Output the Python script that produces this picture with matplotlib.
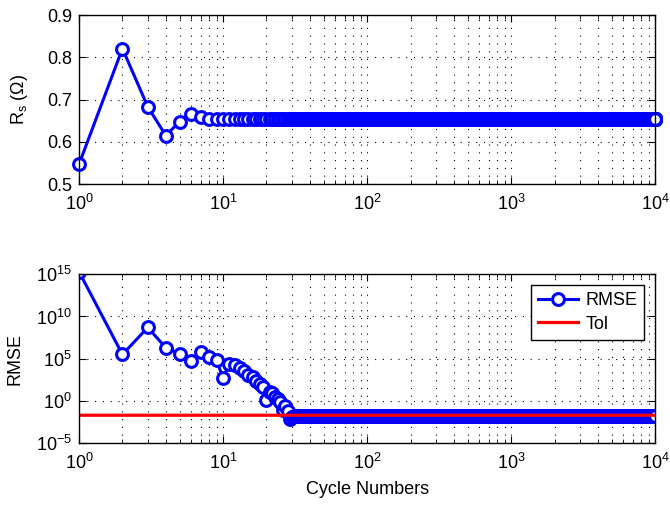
import numpy as np
import matplotlib
matplotlib.use("Agg")
import matplotlib.pyplot as plt
from matplotlib.ticker import LogLocator, NullLocator, FixedLocator

plt.rcParams['font.family'] = ['Liberation Sans', 'DejaVu Sans']
plt.rcParams['mathtext.fontset'] = 'custom'
plt.rcParams['mathtext.rm'] = 'Liberation Sans'
plt.rcParams['mathtext.it'] = 'Liberation Sans:italic'

# ---- data ----
n_cycles = 10000
rs_early = [0.547, 0.821, 0.683, 0.615, 0.648, 0.667, 0.658, 0.655, 0.654, 0.653]
rs_converged = 0.653
rmse_log_early = [15.3, 5.5, 8.7, 6.3, 5.6, 4.7, 5.8, 5.2, 4.8, 2.7,
                  4.4, 4.2, 3.9, 3.5, 3.1, 2.8, 2.3, 2.0, 1.6, 0.1,
                  1.1, 0.9, 0.5, 0.2, -0.1, -1.1, -0.6, -1.2, -2.1, -1.9]
rmse_converged = 0.018
tol = 0.02

cycles = np.arange(1, n_cycles + 1)
rs = np.concatenate([rs_early, np.full(n_cycles - len(rs_early), rs_converged)])
rmse = np.concatenate([10.0 ** np.array(rmse_log_early),
                       np.full(n_cycles - len(rmse_log_early), rmse_converged)])

fig = plt.figure(figsize=(6.7, 5.07), dpi=100)
ax1 = fig.add_axes([0.118, 0.637, 0.860, 0.333])
ax2 = fig.add_axes([0.118, 0.126, 0.860, 0.333])

mk = dict(color=(0, 0, 1), marker='o', markerfacecolor='white',
          markeredgecolor=(0, 0, 1), markersize=8.5, markeredgewidth=2.2, linewidth=2.2)

ax1.plot(cycles, rs, clip_on=False, zorder=3, **mk)
ax1.set_xscale('log')
ax1.set_xlim(1, 1e4)
ax1.set_ylim(0.5, 0.9)
ax1.set_yticks([0.5, 0.6, 0.7, 0.8, 0.9])
ax1.set_ylabel('R$_\\mathregular{s}$ (Ω)', fontsize=13)

l1, = ax2.plot(cycles, rmse, label='RMSE', zorder=3, **mk)
l2, = ax2.plot(cycles, np.full(n_cycles, tol), color='red', linewidth=2.3,
               label='Tol', zorder=4)
ax2.set_xscale('log')
ax2.set_yscale('log')
ax2.set_xlim(1, 1e4)
ax2.set_ylim(1e-5, 1e15)
ax2.yaxis.set_major_locator(FixedLocator([1e-5, 1e0, 1e5, 1e10, 1e15]))
ax2.yaxis.set_minor_locator(NullLocator())
ax2.set_ylabel('RMSE', fontsize=13)
ax2.set_xlabel('Cycle Numbers', fontsize=13, labelpad=6)
leg = ax2.legend(loc='upper right', fontsize=13, fancybox=False, framealpha=1,
                 edgecolor='black', handlelength=2.2, borderpad=0.4,
                 labelspacing=0.35, handletextpad=0.4, borderaxespad=0.6)
leg.get_frame().set_linewidth(1.0)
leg.set_zorder(10)

for ax in (ax1, ax2):
    ax.xaxis.set_major_locator(LogLocator(base=10, numticks=10))
    ax.xaxis.set_minor_locator(LogLocator(base=10, subs=np.arange(2, 10), numticks=20))
    ax.grid(True, which='major', axis='both', linestyle=(0, (1, 6)), color='black', linewidth=0.8)
    ax.grid(True, which='minor', axis='x', linestyle=(0, (1, 6)), color='black', linewidth=0.8)
    ax.tick_params(which='both', direction='in', top=True, right=True, labelsize=13)
    ax.tick_params(which='major', length=5)
    ax.tick_params(which='minor', length=3)
    ax.tick_params(axis='x', which='both', pad=7)
    ax.tick_params(axis='y', which='both', pad=5)
    for s in ax.spines.values():
        s.set_linewidth(1.0)
        s.set_zorder(5)

ax1.yaxis.set_label_coords(-0.085, 0.5)
ax2.yaxis.set_label_coords(-0.097, 0.5)

fig.savefig('out.png', dpi=100)
